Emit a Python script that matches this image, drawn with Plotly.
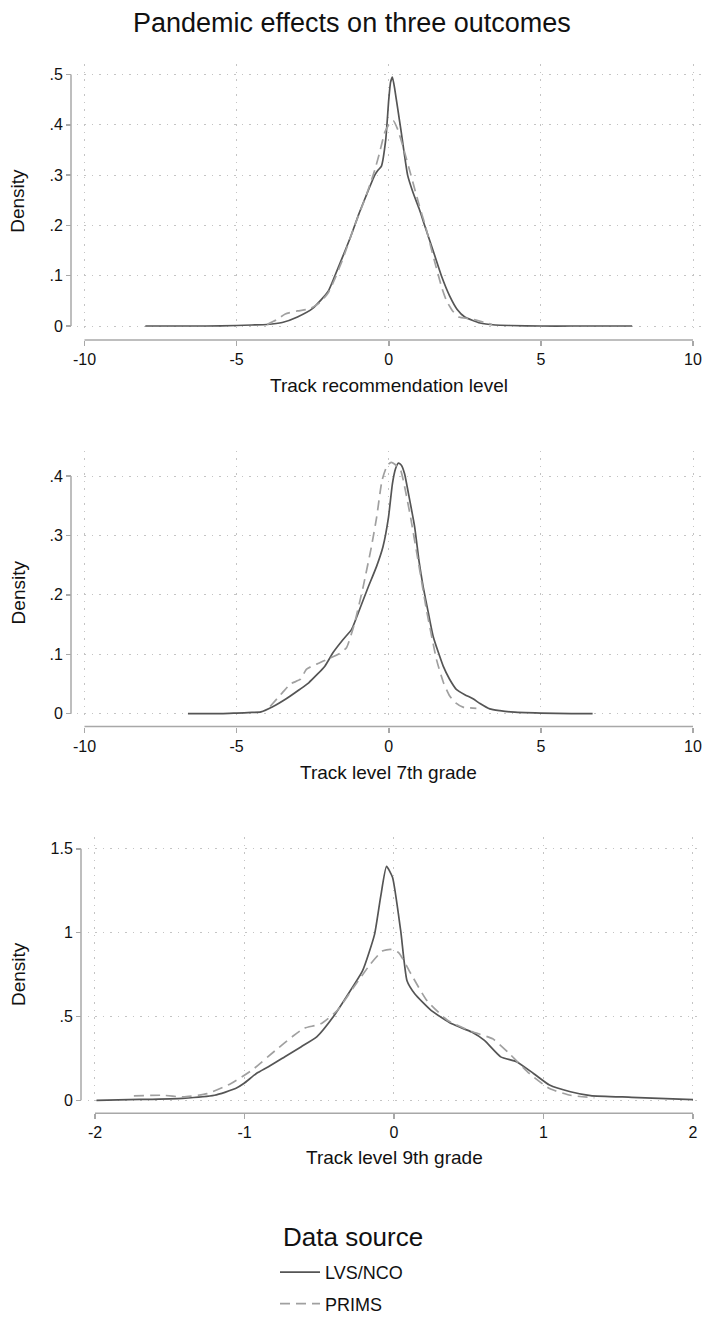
import plotly.graph_objects as go

W, H = 703, 1322

# ---------------- data ----------------
# Panel 1: Track recommendation level
p1_lvs_x = [-8, -6, -5, -4.5, -4, -3.5, -3, -2.5, -2, -1.77, -1.5, -1.25, -1.0, -0.75, -0.46, -0.35, -0.24,
            -0.1, 0.0, 0.06, 0.12, 0.2, 0.3, 0.4, 0.62, 0.8, 1.0, 1.18, 1.5, 1.73, 2.0, 2.25, 2.5, 3.0, 3.5,
            4.0, 5.0, 6.0, 8.0]
p1_lvs_y = [0, 0, 0.001, 0.002, 0.003, 0.007, 0.018, 0.035, 0.068, 0.1, 0.14, 0.178, 0.22, 0.258, 0.3, 0.31,
            0.318, 0.37, 0.45, 0.485, 0.495, 0.47, 0.43, 0.39, 0.3, 0.265, 0.233, 0.2, 0.142, 0.1, 0.06, 0.033,
            0.018, 0.006, 0.002, 0.001, 0, 0, 0]
p1_prims_x = [-4.0, -3.7, -3.4, -3.0, -2.6, -2.3, -2.0, -1.8, -1.5, -1.12, -0.75, -0.46, -0.3, -0.13, 0.05,
              0.15, 0.3, 0.5, 0.73, 1.0, 1.2, 1.5, 1.75, 1.9, 2.1, 2.3, 2.7, 3.1, 3.4]
p1_prims_y = [0.003, 0.012, 0.024, 0.03, 0.034, 0.045, 0.065, 0.09, 0.135, 0.2, 0.258, 0.31, 0.345, 0.385,
              0.405, 0.408, 0.39, 0.35, 0.3, 0.24, 0.2, 0.13, 0.075, 0.05, 0.03, 0.018, 0.014, 0.008, 0.003]

# Panel 2: Track level 7th grade
p2_lvs_x = [-6.6, -5.5, -5.0, -4.5, -4.2, -3.8, -3.37, -2.92, -2.63, -2.1, -1.83, -1.5, -1.22, -1.0, -0.7,
            -0.4, -0.19, -0.01, 0.12, 0.22, 0.32, 0.42, 0.52, 0.65, 0.85, 1.0, 1.13, 1.3, 1.46, 1.79, 2.0,
            2.22, 2.5, 2.77, 3.0, 3.32, 3.65, 4.0, 5.0, 6.0, 6.7]
p2_lvs_y = [0, 0, 0.001, 0.002, 0.003, 0.012, 0.025, 0.041, 0.052, 0.08, 0.103, 0.125, 0.142, 0.17, 0.21,
            0.248, 0.281, 0.33, 0.387, 0.412, 0.422, 0.418, 0.404, 0.37, 0.315, 0.255, 0.214, 0.17, 0.13,
            0.08, 0.058, 0.041, 0.032, 0.025, 0.017, 0.008, 0.005, 0.003, 0.001, 0, 0]
p2_prims_x = [-3.9, -3.5, -3.23, -2.9, -2.7, -2.3, -2.0, -1.66, -1.39, -1.12, -0.84, -0.57, -0.4, -0.22,
              -0.05, 0.08, 0.2, 0.39, 0.55, 0.72, 0.96, 1.24, 1.57, 1.8, 2.0, 2.2, 2.44, 2.88]
p2_prims_y = [0.012, 0.035, 0.05, 0.058, 0.075, 0.085, 0.092, 0.1, 0.111, 0.153, 0.214, 0.281, 0.33, 0.393,
              0.418, 0.423, 0.42, 0.41, 0.375, 0.33, 0.259, 0.175, 0.091, 0.052, 0.03, 0.018, 0.011, 0.009]

# Panel 3: Track level 9th grade
p3_lvs_x = [-1.99, -1.7, -1.415, -1.2, -1.06, -1.005, -0.92, -0.84, -0.73, -0.62, -0.515, -0.405, -0.32,
            -0.21, -0.13, -0.09, -0.05, -0.01, 0.045, 0.087, 0.14, 0.25, 0.387, 0.52, 0.605, 0.714, 0.82,
            0.933, 1.04, 1.18, 1.315, 1.59, 2.0]
p3_lvs_y = [0.0, 0.005, 0.012, 0.03, 0.07, 0.1, 0.16, 0.2, 0.26, 0.32, 0.38, 0.5, 0.615, 0.773, 0.99, 1.21,
            1.395, 1.33, 1.01, 0.713, 0.634, 0.535, 0.456, 0.407, 0.357, 0.259, 0.23, 0.16, 0.091, 0.051,
            0.028, 0.018, 0.004]
p3_prims_x = [-1.74, -1.55, -1.41, -1.25, -1.09, -0.95, -0.79, -0.68, -0.6, -0.49, -0.38, -0.27, -0.16,
              -0.078, -0.023, 0.032, 0.114, 0.22, 0.36, 0.52, 0.66, 0.77, 0.905, 1.04, 1.18, 1.34]
p3_prims_y = [0.026, 0.03, 0.02, 0.04, 0.1, 0.18, 0.3, 0.38, 0.43, 0.456, 0.535, 0.674, 0.81, 0.89, 0.9,
              0.88, 0.753, 0.595, 0.476, 0.41, 0.367, 0.28, 0.16, 0.07, 0.03, 0.015]

series_names = ["LVS/NCO", "PRIMS"]
x_titles = ["Track recommendation level", "Track level 7th grade", "Track level 9th grade"]
y_title = "Density"
chart_title = "Pandemic effects on three outcomes"
legend_title = "Data source"

xticks_ab = [-10, -5, 0, 5, 10]
xticklabels_ab = ["-10", "-5", "0", "5", "10"]
xticks_c = [-2, -1, 0, 1, 2]
xticklabels_c = ["-2", "-1", "0", "1", "2"]
yticks_1 = [0, 0.1, 0.2, 0.3, 0.4, 0.5]
yticklabels_1 = ["0", ".1", ".2", ".3", ".4", ".5"]
yticks_2 = [0, 0.1, 0.2, 0.3, 0.4]
yticklabels_2 = ["0", ".1", ".2", ".3", ".4"]
yticks_3 = [0, 0.5, 1, 1.5]
yticklabels_3 = ["0", ".5", "1", "1.5"]

# ---------------- layout geometry (pixels) ----------------
FONT = "Liberation Sans, Arial, Helvetica, sans-serif"
AXIS_COL = "#a8a8a8"
GRID_COL = "#c4c4c4"
SOLID_COL = "#555555"
DASH_COL = "#a0a0a0"


def py(v):
    """pixel-from-top -> paper y"""
    return 1 - v / H


panels = [
    dict(xs=(p1_lvs_x, p1_lvs_y, p1_prims_x, p1_prims_y), xt=xticks_ab, xtl=xticklabels_ab,
         yt=yticks_1, ytl=yticklabels_1, xpx=(84.5, 693), xr=(-10.25, 10.3),
         ypx=(328, 75), yr=(-0.012, 0.52), yline_x=71, xline_y=342, xtitle_y=388, ytitle_y=202),
    dict(xs=(p2_lvs_x, p2_lvs_y, p2_prims_x, p2_prims_y), xt=xticks_ab, xtl=xticklabels_ab,
         yt=yticks_2, ytl=yticklabels_2, xpx=(84.5, 693), xr=(-10.25, 10.3),
         ypx=(718, 479), yr=(-0.012, 0.443), yline_x=71, xline_y=731, xtitle_y=777, ytitle_y=596),
    dict(xs=(p3_lvs_x, p3_lvs_y, p3_prims_x, p3_prims_y), xt=xticks_c, xtl=xticklabels_c,
         yt=yticks_3, ytl=yticklabels_3, xpx=(95, 693), xr=(-2.05, 2.065),
         ypx=(1107, 854), yr=(-0.04, 1.57), yline_x=81, xline_y=1120, xtitle_y=1165, ytitle_y=980),
]

fig = go.Figure()
shapes = []
annotations = []

for i, p in enumerate(panels):
    n = "" if i == 0 else str(i + 1)
    xa, ya = "x" + n, "y" + n
    lx, ly, dx, dy = p["xs"]
    fig.add_trace(go.Scatter(x=lx, y=ly, mode="lines", name=series_names[0], xaxis=xa, yaxis=ya,
                             line=dict(color=SOLID_COL, width=1.7, shape="spline", smoothing=0.5),
                             showlegend=(i == 0), legendgroup="a", hoverinfo="skip"))
    fig.add_trace(go.Scatter(x=dx, y=dy, mode="lines", name=series_names[1], xaxis=xa, yaxis=ya,
                             line=dict(color=DASH_COL, width=1.7, dash="10px,6px", shape="spline", smoothing=0.5),
                             showlegend=(i == 0), legendgroup="b", hoverinfo="skip"))

    # x domain from tick-pixel mapping
    t0, t1 = p["xt"][0], p["xt"][-1]
    b = (p["xpx"][1] - p["xpx"][0]) / (t1 - t0)
    xlo = p["xpx"][0] + (p["xr"][0] - t0) * b
    xhi = p["xpx"][0] + (p["xr"][1] - t0) * b
    # y domain
    s0, s1 = p["yt"][0], p["yt"][-1]
    c = (p["ypx"][1] - p["ypx"][0]) / (s1 - s0)
    ylo = p["ypx"][0] + (p["yr"][0] - s0) * c
    yhi = p["ypx"][0] + (p["yr"][1] - s0) * c

    axis_common = dict(showline=False, zeroline=False, showgrid=True, gridcolor=GRID_COL, gridwidth=1,
                       griddash="1.5px,6px", ticks="outside", ticklen=5, tickwidth=1.5, tickcolor=AXIS_COL,
                       tickfont=dict(family=FONT, size=16, color="#111"), automargin=False, fixedrange=True)
    fig.layout["xaxis" + n] = dict(axis_common, domain=[xlo / W, xhi / W], range=list(p["xr"]),
                                   tickvals=p["xt"], ticktext=p["xtl"], anchor="free",
                                   position=py(p["xline_y"]))
    fig.layout["yaxis" + n] = dict(axis_common, domain=[py(ylo), py(yhi)], range=list(p["yr"]),
                                   tickvals=p["yt"], ticktext=p["ytl"], anchor="free",
                                   position=p["yline_x"] / W)

    # axis lines spanning the tick range (Stata style), in paper units
    shapes.append(dict(type="line", xref="paper", yref="paper", x0=p["xpx"][0] / W, x1=p["xpx"][1] / W,
                       y0=py(p["xline_y"]), y1=py(p["xline_y"]),
                       line=dict(color=AXIS_COL, width=1.5), layer="above"))
    shapes.append(dict(type="line", xref="paper", yref="paper", x0=p["yline_x"] / W, x1=p["yline_x"] / W,
                       y0=py(p["ypx"][0]), y1=py(p["ypx"][1]),
                       line=dict(color=AXIS_COL, width=1.5), layer="above"))

    annotations.append(dict(text=x_titles[i], xref="paper", yref="paper",
                            x=(p["xpx"][0] + p["xpx"][1]) / 2 / W, y=py(p["xtitle_y"]),
                            xanchor="center", yanchor="middle", showarrow=False,
                            font=dict(family=FONT, size=19, color="#111")))
    annotations.append(dict(text=y_title, xref="paper", yref="paper", x=18 / W, y=py(p["ytitle_y"]),
                            xanchor="center", yanchor="middle", textangle=-90, showarrow=False,
                            font=dict(family=FONT, size=19, color="#111")))

annotations.append(dict(text=chart_title, xref="paper", yref="paper", x=0.5, y=py(23),
                        xanchor="center", yanchor="middle", showarrow=False,
                        font=dict(family=FONT, size=27, color="#111")))
annotations.append(dict(text=legend_title, xref="paper", yref="paper", x=353 / W, y=py(1245),
                        xanchor="center", yanchor="middle", showarrow=False,
                        font=dict(family=FONT, size=26, color="#111")))

fig.update_layout(
    width=W, height=H, margin=dict(l=0, r=0, t=0, b=0),
    paper_bgcolor="white", plot_bgcolor="white",
    shapes=shapes, annotations=annotations,
    legend=dict(x=275 / W, xanchor="left", y=py(1262), yanchor="top", orientation="v",
                font=dict(family=FONT, size=18, color="#111"), tracegroupgap=5,
                bgcolor="rgba(0,0,0,0)", itemwidth=40),
    showlegend=True,
)

post = """
(function(){
  var de = document.documentElement, bd = document.body;
  [de, bd].forEach(function(el){
    el.style.margin='0'; el.style.padding='0'; el.style.overflow='hidden';
  });
})();
"""

fig.write_html("out.html", config={"displayModeBar": False, "staticPlot": True}, post_script=post)
